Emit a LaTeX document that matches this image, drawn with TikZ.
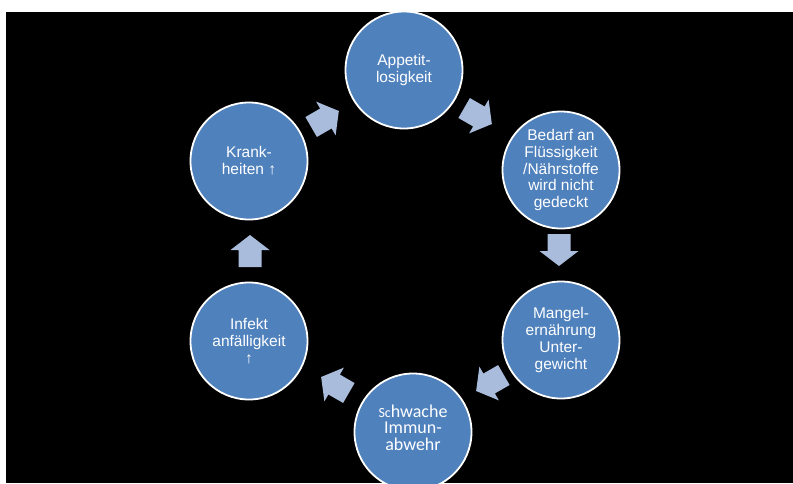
\documentclass[tikz,border=0pt]{standalone}
\usepackage{fontspec}
\setmainfont{Liberation Sans}
\newfontfamily\calfont{Carlito}
\definecolor{circblue}{RGB}{79,129,189}
\definecolor{arrowblue}{RGB}{169,188,220}
\tikzset{
  cyclenode/.style={circle, fill=circblue, draw=white, line width=1.8pt,
    minimum size=117pt, inner sep=0pt, align=center, text=white,
    font=\fontsize{15.5}{16.8}\selectfont},
  blockarrow/.style={fill=arrowblue},
}
\newcommand{\blockarr}[3]{%
  \coordinate (#1) at (#2);
  \fill[blockarrow, shift={(#1)}, rotate=#3]
    (-16,-11.5) -- (1,-11.5) -- (1,-19.5) -- (16,0) -- (1,19.5) -- (1,11.5) -- (-16,11.5) -- cycle;}
\begin{document}
\begin{tikzpicture}[x=1pt, y=-1pt]
\clip (0,0) rectangle (793,483);
\useasboundingbox (0,0) rectangle (793,483);
\fill[white] (0,0) rectangle (793,483);
\fill[black] (6,12) rectangle (793,483);

\node[cyclenode] (appetit) at (404,70) {Appetit-\\losigkeit};
\node[cyclenode] (bedarf) at (561,170) {Bedarf an\\Flüssigkeit\\/Nährstoffe\\wird nicht\\gedeckt};
\node[cyclenode] (mangel) at (561,340) {Mangel-\\ernährung\\Unter-\\gewicht};
\node[cyclenode, font=\calfont\fontsize{18}{16.6}\selectfont] (schwach) at (413,432)
  {{\fontsize{14}{14}\selectfont Sc}hwache\\Immun-\\abwehr\\[-8pt]\mbox{}};
\node[cyclenode] (infekt) at (249,341) {Infekt\\anfälligkeit\\↑};
\node[cyclenode] (krank) at (249,161) {Krank-\\heiten ↑};

\blockarr{a1}{478,116}{-30}
\blockarr{a2}{559,250}{-90}
\blockarr{a3}{490,383}{-150}
\blockarr{a4}{335,385}{150}
\blockarr{a5}{250,251}{90}
\blockarr{a6}{325,119}{30}
\end{tikzpicture}
\end{document}
